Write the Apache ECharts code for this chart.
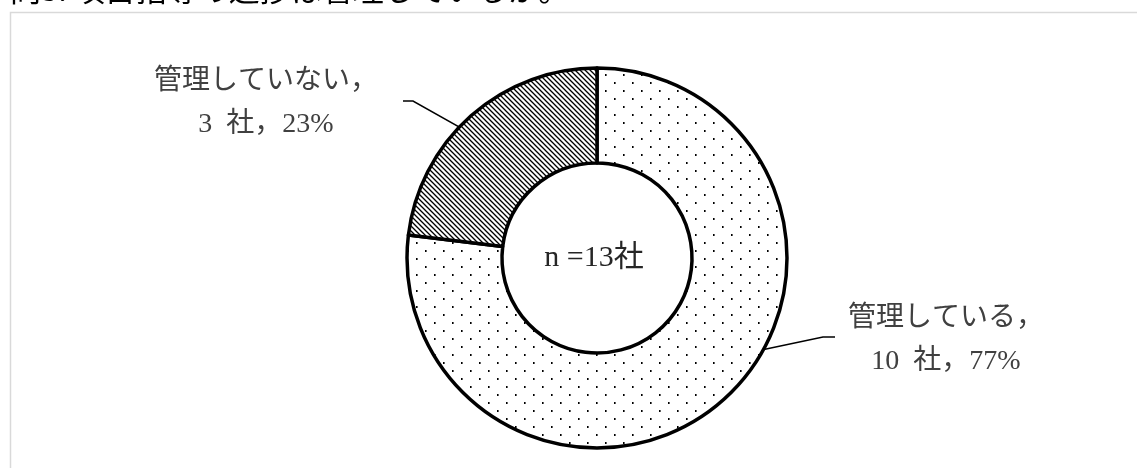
<!DOCTYPE html>
<html>
<head>
<meta charset="utf-8">
<script src="https://cdn.jsdelivr.net/npm/echarts@6/dist/echarts.min.js"></script>
<style>
  html, body { margin: 0; padding: 0; background: #fff; }
  #chart { width: 1137px; height: 468px; }
</style>
</head>
<body>
<div id="chart"></div>
<script>
// Survey answers: companies that manage the progress vs. those that do not
const categories = ['管理している', '管理していない'];
const counts = [10, 3];
const unit = '社';
const heading = '問3. 項目指導の進捗は管理しているか。';

const FONT = "'Liberation Serif', 'Noto Sans CJK JP', serif";
const CENTER = [597, 258];
const R_IN = 95;
const R_OUT = 190;

// Fine staggered dot fill
function dotPattern() {
  const c = document.createElement('canvas');
  c.width = 18; c.height = 16;
  const g = c.getContext('2d');
  g.fillStyle = '#fff';
  g.fillRect(0, 0, 18, 16);
  g.fillStyle = '#000';
  g.fillRect(2, 2, 1.6, 2);
  g.fillRect(11, 10, 1.6, 2);
  return c;
}

// Back-slash hatching
function hatchPattern() {
  const s = 5;
  const c = document.createElement('canvas');
  c.width = s; c.height = s;
  const g = c.getContext('2d');
  g.fillStyle = '#fff';
  g.fillRect(0, 0, s, s);
  g.strokeStyle = '#000';
  g.lineWidth = 1.3;
  g.beginPath();
  for (const k of [-s, 0, s]) {
    g.moveTo(k - 1, -1);
    g.lineTo(k + s + 1, s + 1);
  }
  g.stroke();
  return c;
}

const fills = [
  { image: dotPattern(), repeat: 'repeat' },
  { image: hatchPattern(), repeat: 'repeat' }
];

const total = counts.reduce((a, b) => a + b, 0);

// Where each label block sits and how its leader line bends
const labelAnchors = [[946, 340], [266, 103]];
const leaderBends = [
  [[823, 337], [835, 337]],
  [[413, 101], [403, 101]]
];

function midAngle(i) {
  let before = 0;
  for (let k = 0; k < i; k++) before += counts[k];
  return (before + counts[i] / 2) / total * 2 * Math.PI;
}

function leaderStart(i) {
  const a = midAngle(i);
  const r = (R_IN + R_OUT) / 2;
  return [CENTER[0] + r * Math.sin(a), CENTER[1] - r * Math.cos(a)];
}

const chart = echarts.init(document.getElementById('chart'), null, { renderer: 'canvas' });

chart.setOption({
  backgroundColor: '#fff',
  animation: false,
  graphic: [
    {
      type: 'rect',
      shape: { x: 10.5, y: 12.5, width: 1300, height: 600 },
      style: { fill: 'none', stroke: '#d9d9d9', lineWidth: 1.5 },
      silent: true
    },
    {
      type: 'text',
      x: 10, y: 5,
      style: {
        text: heading,
        fill: '#000',
        font: "31px 'Noto Sans CJK JP', sans-serif",
        align: 'left',
        verticalAlign: 'bottom'
      },
      silent: true
    },
    {
      type: 'text',
      x: CENTER[0] - 3, y: CENTER[1],
      style: {
        text: 'n =' + total + unit,
        fill: '#262626',
        font: '30px ' + FONT,
        align: 'center',
        verticalAlign: 'middle'
      },
      silent: true
    }
  ],
  series: [{
    type: 'pie',
    center: CENTER,
    radius: [R_IN, R_OUT],
    startAngle: 90,
    clockwise: true,
    silent: true,
    emphasis: { disabled: true },
    data: categories.map((name, i) => ({
      name,
      value: counts[i],
      itemStyle: { color: fills[i] }
    })),
    itemStyle: { borderColor: '#000', borderWidth: 3.5 },
    label: {
      show: true,
      position: 'outside',
      color: '#404040',
      fontFamily: FONT,
      fontSize: 28,
      lineHeight: 43,
      align: 'center',
      formatter: p => p.name + '，\n' + p.value + '  ' + unit + '，' +
        Math.round(p.value / total * 100) + '%'
    },
    labelLine: {
      show: true,
      lineStyle: { color: '#000', width: 1.5 }
    },
    labelLayout: p => {
      const i = p.dataIndex;
      return {
        x: labelAnchors[i][0],
        y: labelAnchors[i][1],
        align: 'center',
        verticalAlign: 'middle',
        labelLinePoints: [leaderStart(i), leaderBends[i][0], leaderBends[i][1]]
      };
    }
  }]
});
</script>
</body>
</html>
